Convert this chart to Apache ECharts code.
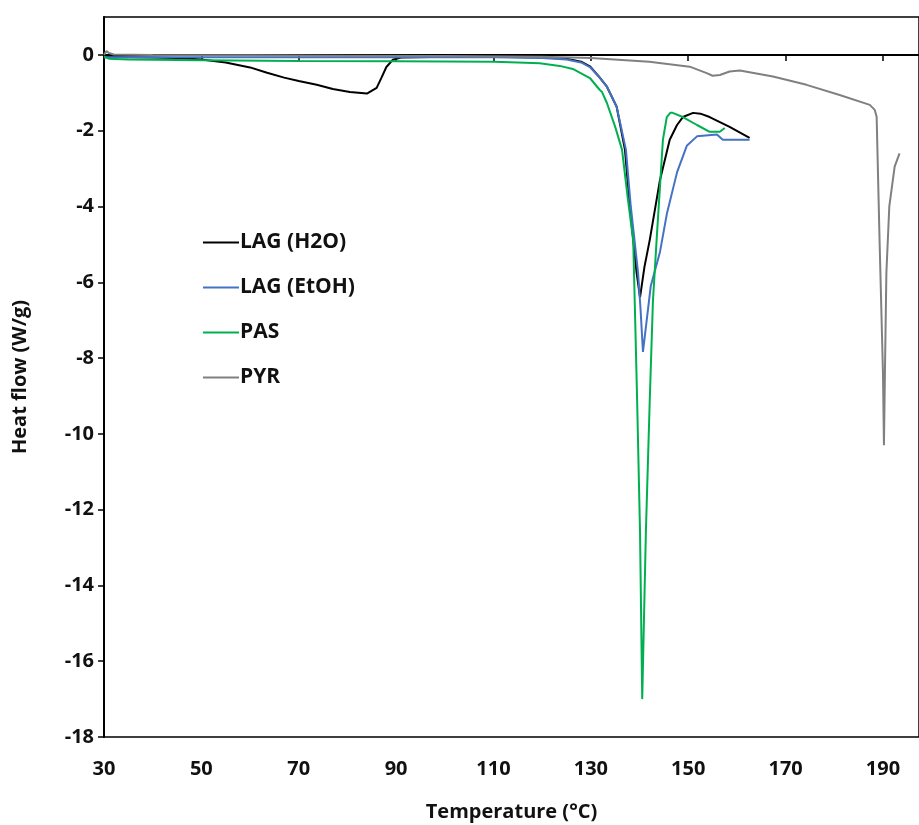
<!DOCTYPE html>
<html>
<head>
	<meta charset="utf-8">
	<title>DSC</title>
	<script src="https://cdn.jsdelivr.net/npm/echarts@6/dist/echarts.min.js"></script>
	<style>html,body{margin:0;padding:0;background:#fff;}</style>
</head>
<body>
<div style="width:919px;height:825px;" id="chart"></div>
<script>
// curves: temperature (°C) / heat flow (W/g)
var h2oT = [30,35,40,45,50,55,60,63.5,67,70,73.7,77,80.5,84,86,87,88,89.3,91,100,110,120,125,128,129.8,131.5,133.3,135.3,137,138,139.4,140.1,141,142.1,144.2,146.2,147.7,148.9,151,152.5,154.4,158.5,162.6];
var h2oV = [-0.05,-0.06,-0.07,-0.08,-0.12,-0.2,-0.33,-0.47,-0.6,-0.69,-0.79,-0.9,-0.98,-1.02,-0.87,-0.6,-0.32,-0.13,-0.07,-0.05,-0.05,-0.07,-0.1,-0.18,-0.3,-0.55,-0.84,-1.37,-2.5,-4.0,-5.75,-6.4,-5.6,-4.88,-3.3,-2.24,-1.85,-1.64,-1.53,-1.55,-1.64,-1.9,-2.19];

var etohT = [30,40,60,80,100,110,120,125,128,129.8,131.5,133.3,135.3,137.2,138.2,139.7,140.2,140.7,142.3,142.6,144.2,145.6,147.7,149.7,151.8,155.9,157.1,161.2,162.6];
var etohV = [-0.06,-0.06,-0.06,-0.06,-0.06,-0.06,-0.08,-0.12,-0.2,-0.32,-0.55,-0.84,-1.37,-2.5,-4.0,-5.75,-6.7,-7.84,-6.1,-6.1,-5.2,-4.2,-3.1,-2.4,-2.15,-2.1,-2.24,-2.24,-2.24];

var pasT = [30,31,35,50,70,90,110,115,119.5,123.6,126.3,129.8,131.8,132.3,133.3,135,136.4,137.6,138.7,139.2,139.5,140.1,140.55,141.3,142.1,142.75,143.5,144.8,145.6,146.3,146.8,148.9,151.8,154.4,156.5,157.5];
var pasV = [-0.05,-0.1,-0.12,-0.14,-0.16,-0.17,-0.18,-0.2,-0.22,-0.29,-0.37,-0.61,-0.92,-0.98,-1.27,-1.9,-2.5,-3.8,-4.9,-7.5,-9.1,-12.6,-17.0,-12.6,-9.1,-6.5,-4.9,-2.24,-1.64,-1.53,-1.53,-1.64,-1.85,-2.03,-2.03,-1.93];

var pyrT = [30,30.5,31,32,40,60,80,100,120,130,142,150.3,153.8,155,156.5,158.5,160.6,167.4,174.3,181.1,187.3,188.3,188.7,189.3,190,190.2,190.4,190.7,191.3,192.4,193.4];
var pyrV = [0.0,0.1,0.05,0.01,0.0,-0.01,-0.02,-0.03,-0.05,-0.08,-0.18,-0.31,-0.48,-0.55,-0.53,-0.44,-0.41,-0.57,-0.79,-1.06,-1.32,-1.45,-1.63,-4.9,-8.4,-10.3,-8.4,-5.75,-4.0,-2.95,-2.6];

var names = ['LAG (H2O)','LAG (EtOH)','PAS','PYR'];
var colors = ['#000000','#4472c4','#00b050','#808080'];

function pairs(t, v){
    var out = [];
    for(var i=0;i<t.length;i++){ out.push([t[i], v[i]]); }
    return out;
}
var curves = [pairs(h2oT,h2oV), pairs(etohT,etohV), pairs(pasT,pasV), pairs(pyrT,pyrV)];

var font = '"Open Sans", "Liberation Sans", sans-serif';
var chart = echarts.init(document.getElementById('chart'));

var series = [];
var legendData = [];
for(var i=0;i<names.length;i++){
    series.push({
        name: names[i],
        type: 'line',
        data: curves[i],
        symbol: 'none',
        smooth: false,
        lineStyle: {color: colors[i], width: 2},
        itemStyle: {color: colors[i]},
        animation: false
    });
    legendData.push({name: names[i], icon: 'rect'});
}

chart.setOption({
    backgroundColor: '#fff',
    grid: {left: 104, right: 0, top: 17, bottom: 88, show: true, borderColor: '#000', borderWidth: 1.5, outerBoundsMode: 'none'},
    legend: {
        orient: 'vertical',
        left: 198, top: 225,
        itemWidth: 36, itemHeight: 2, itemGap: 20,
        data: legendData,
        textStyle: {fontFamily: font, fontWeight: 'bold', fontSize: 21, color: '#111', lineHeight: 25, padding: [0,0,0,-4]}
    },
    xAxis: {
        type: 'value',
        min: 30, max: 197.4, interval: 20,
        name: 'Temperature (°C)',
        nameLocation: 'middle', nameGap: 65,
        nameTextStyle: {fontFamily: font, fontWeight: 'bold', fontSize: 20, color: '#111'},
        axisLine: {lineStyle: {color: '#000', width: 2}},
        axisTick: {length: 6, lineStyle: {color: '#000', width: 1.5}},
        axisLabel: {fontFamily: font, fontWeight: 'bold', fontSize: 20, color: '#111', margin: 22, showMaxLabel: false},
        splitLine: {show: false}
    },
    yAxis: {
        type: 'value',
        min: -18, max: 1, interval: 2,
        name: 'Heat flow (W/g)',
        nameLocation: 'middle', nameGap: 74,
        nameTextStyle: {fontFamily: font, fontWeight: 'bold', fontSize: 20, color: '#111'},
        axisLine: {lineStyle: {color: '#000', width: 2}},
        axisTick: {length: 6, lineStyle: {color: '#000', width: 1.5}},
        axisLabel: {fontFamily: font, fontWeight: 'bold', fontSize: 20, color: '#111', margin: 10, showMaxLabel: false},
        splitLine: {show: false}
    },
    series: series
});
</script>
</body>
</html>
